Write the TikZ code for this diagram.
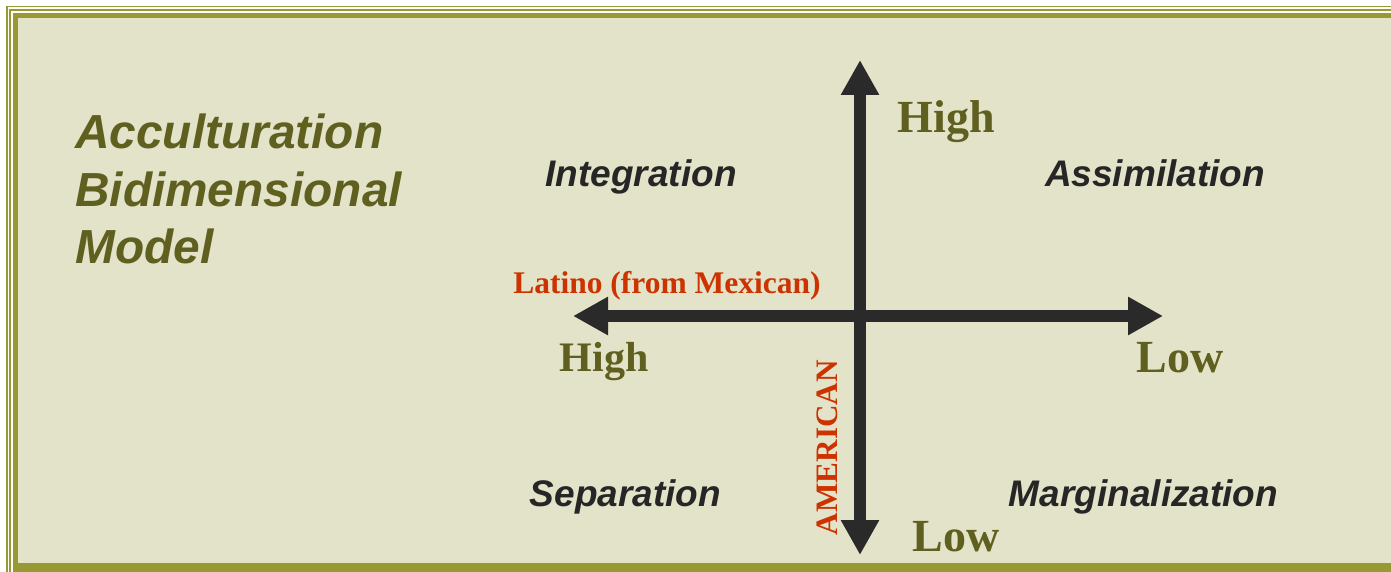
\documentclass[tikz,border=0pt]{standalone}
\usepackage{fontspec}
\setmainfont{Liberation Serif}
\setsansfont{Liberation Sans}
\usetikzlibrary{arrows.meta}

\definecolor{panelbeige}{HTML}{E3E3C9}
\definecolor{frameolive}{HTML}{999933}
\definecolor{textolive}{HTML}{5F5F1F}
\definecolor{labelred}{HTML}{CC3300}
\definecolor{axisgray}{HTML}{2A2A2A}
\definecolor{quadgray}{HTML}{262626}

\tikzset{
    axis/.style={line width=12.5pt, draw=axisgray,
        {Triangle[width=36pt,length=35pt]}-{Triangle[width=36pt,length=35pt]}},
    level/.style={anchor=base, inner sep=0pt, text=textolive,
        font=\bfseries\fontsize{46}{50}\selectfont},
    quadrant/.style={anchor=base, inner sep=0pt, text=quadgray,
        font=\sffamily\bfseries\itshape\fontsize{37}{40}\selectfont},
    titleline/.style={anchor=base west, inner sep=0pt, text=textolive,
        font=\sffamily\bfseries\itshape\fontsize{47.8}{57}\selectfont},
    culture/.style={anchor=base, inner sep=0pt, text=labelred}
}

\begin{document}
\begin{tikzpicture}[x=1pt, y=-1pt]
    \useasboundingbox (0,0) rectangle (1391,572);

    % frame
    \fill[white]       (0,0)       rectangle (1391,572);
    \fill[frameolive]  (5.7,5.7)   rectangle (1391,572);
    \fill[white]       (7.5,7.5)   rectangle (1391,572);
    \fill[frameolive]  (9.3,9.3)   rectangle (1391,572);
    \fill[white]       (11,11)     rectangle (1391,572);
    \fill[frameolive]  (12.7,12.7) rectangle (1391,572);
    \fill[panelbeige]  (18,18)     rectangle (1391,563);

    \node[titleline] (title1) at (75,149) {Acculturation};
    \node[titleline] (title2) at (75,206) {Bidimensional};
    \node[titleline] (title3) at (75,263) {Model};

    \coordinate (latinoHigh)   at (573,316);
    \coordinate (latinoLow)    at (1163,316);
    \coordinate (americanHigh) at (860,60);
    \coordinate (americanLow)  at (860,555);

    \draw[axis] (latinoHigh) -- (latinoLow);
    \draw[axis] (americanLow) -- (americanHigh);

    \node[level] (highTop)    at (946,133)  {High};
    \node[level] (lowBottom)  at (956,551)  {Low};
    \node[level, font=\bfseries\fontsize{42}{46}\selectfont] (highLeft) at (604,371) {High};
    \node[level] (lowRight)   at (1180,372) {Low};

    \node[culture, font=\bfseries\fontsize{31.5}{34}\selectfont] (latino) at (667,293) {Latino (from Mexican)};
    \node[culture, rotate=90, font=\bfseries\fontsize{31.2}{34}\selectfont] (american) at (837,447.5) {AMERICAN};

    \node[quadrant] (integration)     at (641,186)    {Integration};
    \node[quadrant] (assimilation)    at (1155,186)   {Assimilation};
    \node[quadrant] (separation)      at (625.5,506)  {Separation};
    \node[quadrant] (marginalization) at (1143.5,506) {Marginalization};
\end{tikzpicture}
\end{document}
